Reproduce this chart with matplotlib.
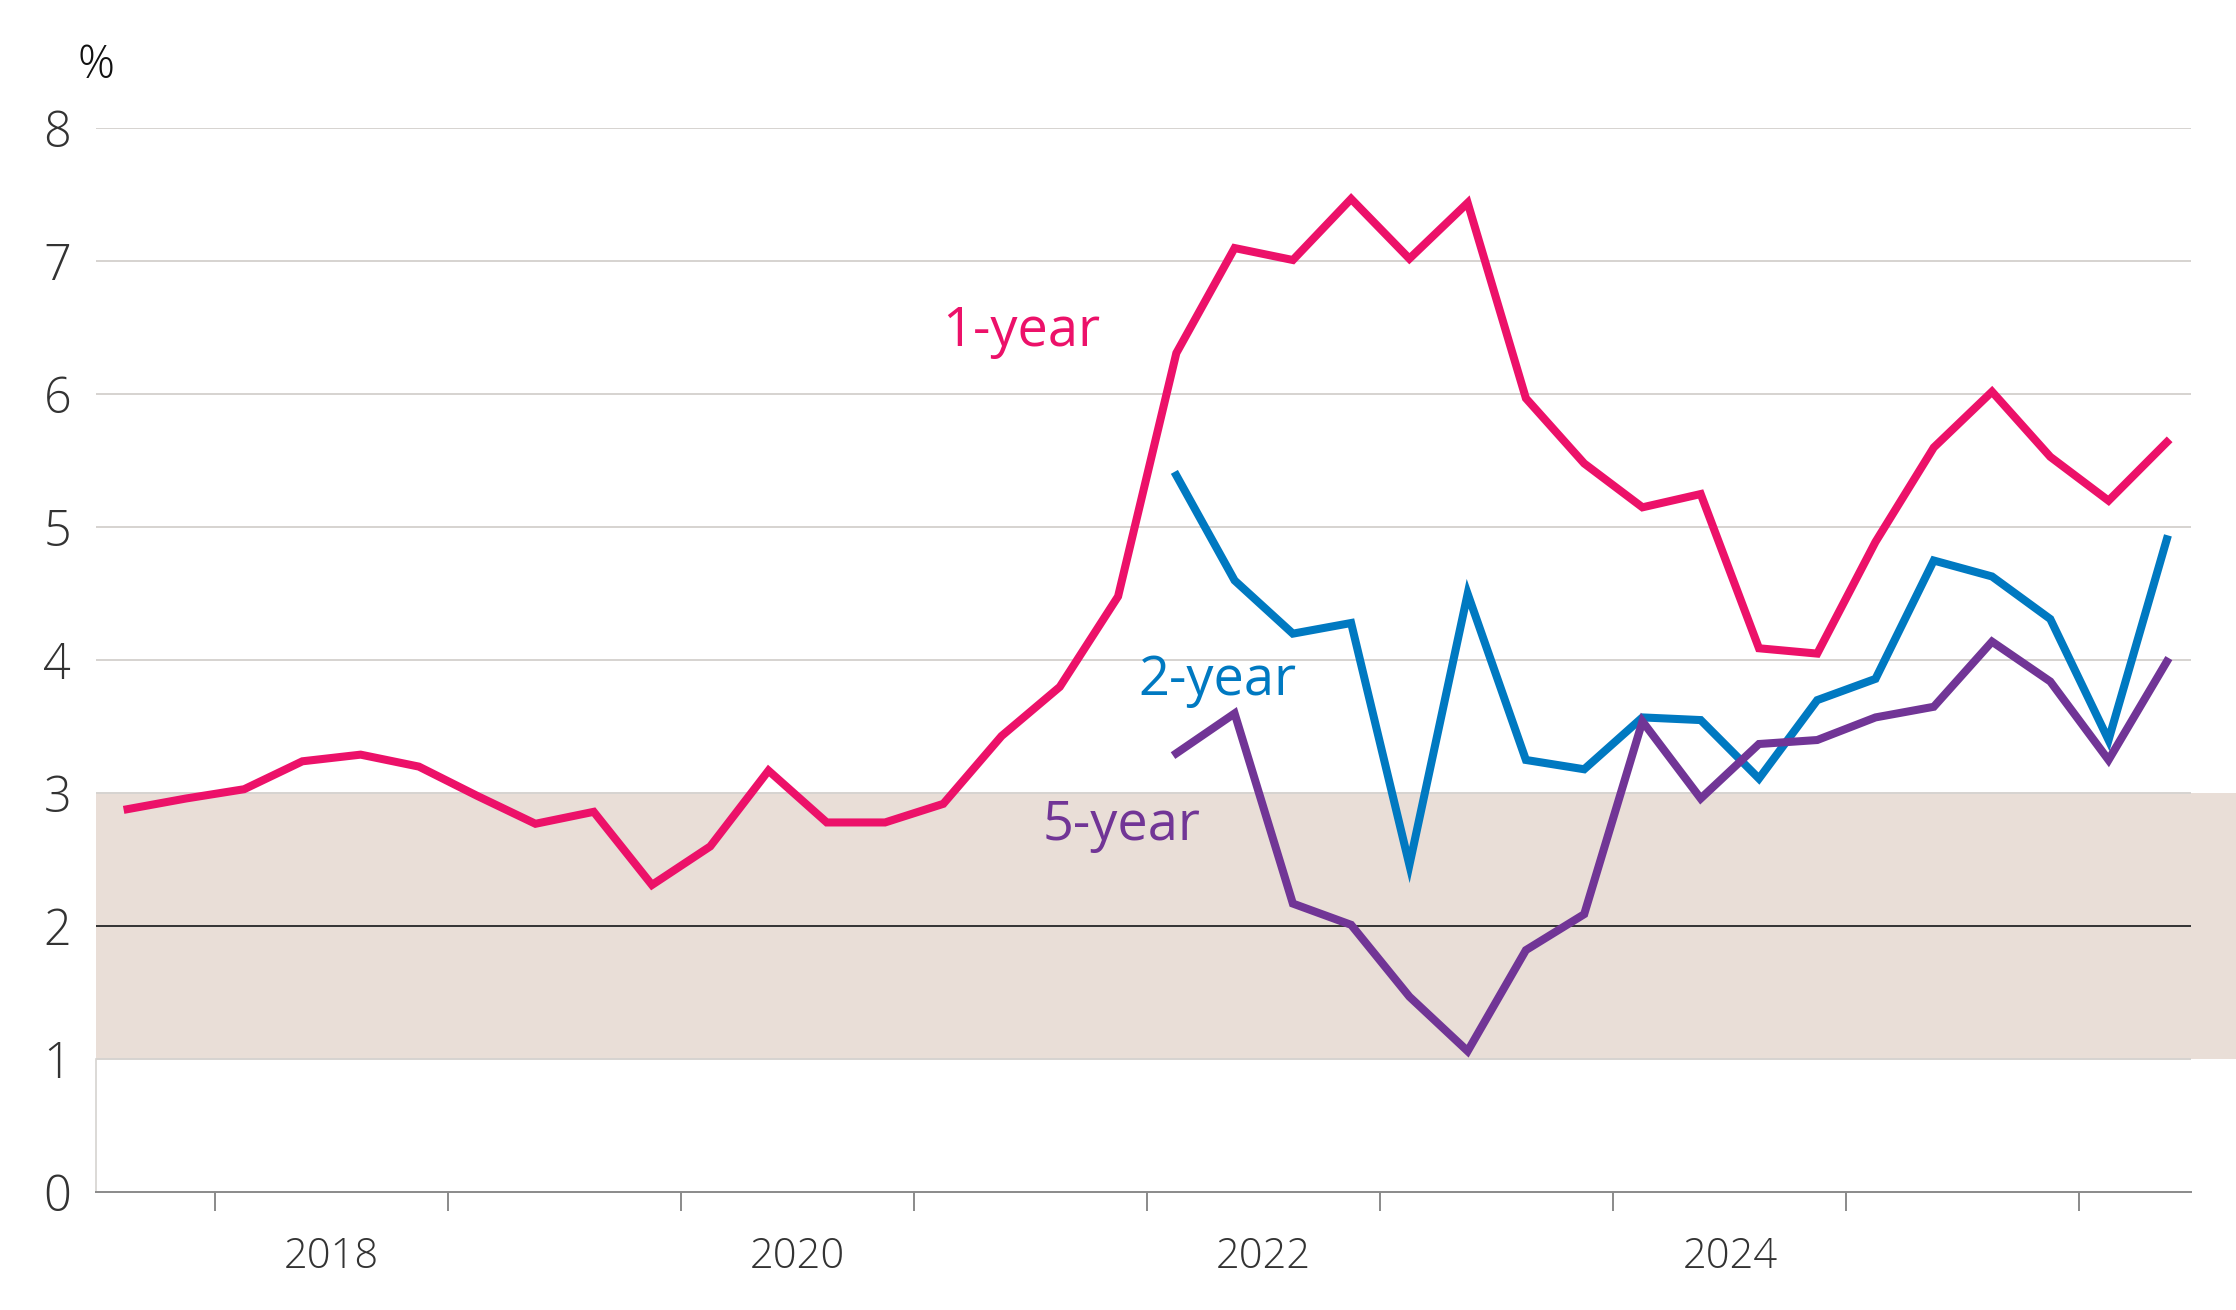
import matplotlib
matplotlib.use("Agg")
import matplotlib.pyplot as plt
from matplotlib.patches import Rectangle
import matplotlib.transforms as mtransforms
import numpy as np

# Quarterly survey dates (mid-quarter, decimal years)
dates = [2017.625 + 0.25 * i for i in range(36)]

one_year = [2.88, 2.96, 3.03, 3.24, 3.29, 3.20, 2.98, 2.77, 2.86, 2.31,
            2.60, 3.17, 2.78, 2.78, 2.92, 3.43, 3.80, 4.48, 6.31, 7.10,
            7.01, 7.47, 7.02, 7.44, 5.97, 5.48, 5.15, 5.25, 4.09, 4.05,
            4.89, 5.60, 6.02, 5.53, 5.20, 5.64]
two_year = [5.39, 4.60, 4.20, 4.28, 2.46, 4.50, 3.25, 3.18, 3.57, 3.55,
            3.11, 3.70, 3.86, 4.75, 4.63, 4.31, 3.40, 4.91]
five_year = [3.30, 3.60, 2.17, 2.01, 1.47, 1.06, 1.82, 2.09, 3.54, 2.96,
             3.37, 3.40, 3.57, 3.65, 4.14, 3.84, 3.25, 3.99]

year_ticks = list(range(2018, 2027))
year_labels = ["2018", "2020", "2022", "2024"]
y_ticks = [0, 1, 2, 3, 4, 5, 6, 7, 8]
target_band = (1, 3)
target_mid = 2

PINK = "#EC1169"
BLUE = "#0079C1"
PURPLE = "#713596"
BAND = "#E9DED7"

plt.rcParams['font.family'] = ['Open Sans', 'DejaVu Sans']

fig = plt.figure(figsize=(22.36, 13.10), dpi=100)
ax = fig.add_axes([0.043, 0.090, 0.937, 0.812])

ax.set_xlim(2017.49, 2026.48)
ax.set_ylim(0, 8)

# target band (extends to the right edge of the figure)
trans = mtransforms.blended_transform_factory(ax.transAxes, ax.transData)
band = Rectangle((0, target_band[0]), 1.05, target_band[1] - target_band[0],
                 transform=trans, facecolor=BAND, edgecolor='none',
                 clip_on=False, zorder=0)
ax.add_patch(band)

# gridlines
for yv in y_ticks[1:]:
    if yv == target_mid:
        ax.axhline(yv, color="#333333", lw=1.4, zorder=1)
    else:
        ax.axhline(yv, color="#D6D3D0", lw=1.4, zorder=1)

# light left spine below band
ax.plot([0, 0], [0, target_band[0]], transform=trans, color="#D6D3D0",
        lw=1.2, clip_on=False, zorder=1)

n2 = len(two_year)
ax.plot(dates, one_year, color=PINK, lw=5.8, solid_joinstyle='miter', zorder=3)
ax.plot(dates[-n2:], two_year, color=BLUE, lw=5.8, solid_joinstyle='miter', zorder=3)
ax.plot(dates[-len(five_year):], five_year, color=PURPLE, lw=5.8,
        solid_joinstyle='miter', zorder=4)

for s in ["top", "right", "left"]:
    ax.spines[s].set_visible(False)
ax.spines["bottom"].set_color("#8A8A8A")
ax.spines["bottom"].set_linewidth(1.4)

ax.set_xticks(year_ticks)
ax.set_xticklabels([])
ax.tick_params(axis='x', which='major', length=14, width=1.4, color="#8A8A8A",
               direction='out')
ax.set_xticks([int(y) + 0.5 for y in year_labels], minor=True)
ax.set_xticklabels(year_labels, minor=True)
ax.tick_params(axis='x', which='minor', length=0, pad=31, labelsize=30,
               labelcolor="#333333")
for lab in ax.get_xticklabels(minor=True):
    lab.set_fontweight('light')

ax.set_yticks(y_ticks)
ax.set_yticklabels([str(v) for v in y_ticks])
ax.tick_params(axis='y', length=0, pad=18, labelsize=35, labelcolor="#333333")
for lab in ax.get_yticklabels():
    lab.set_fontweight('light')

ax.text(0.0, 1.059, "%", transform=ax.transAxes, fontsize=33,
        color="#111111", ha='center', va='center', fontweight='light')

ax.text(2021.46, 6.47, "1-year", color=PINK, fontsize=39, ha='center', va='center')
ax.text(2022.30, 3.85, "2-year", color=BLUE, fontsize=39, ha='center', va='center')
ax.text(2021.89, 2.76, "5-year", color=PURPLE, fontsize=39, ha='center', va='center')

fig.savefig("out.png", dpi=100)
